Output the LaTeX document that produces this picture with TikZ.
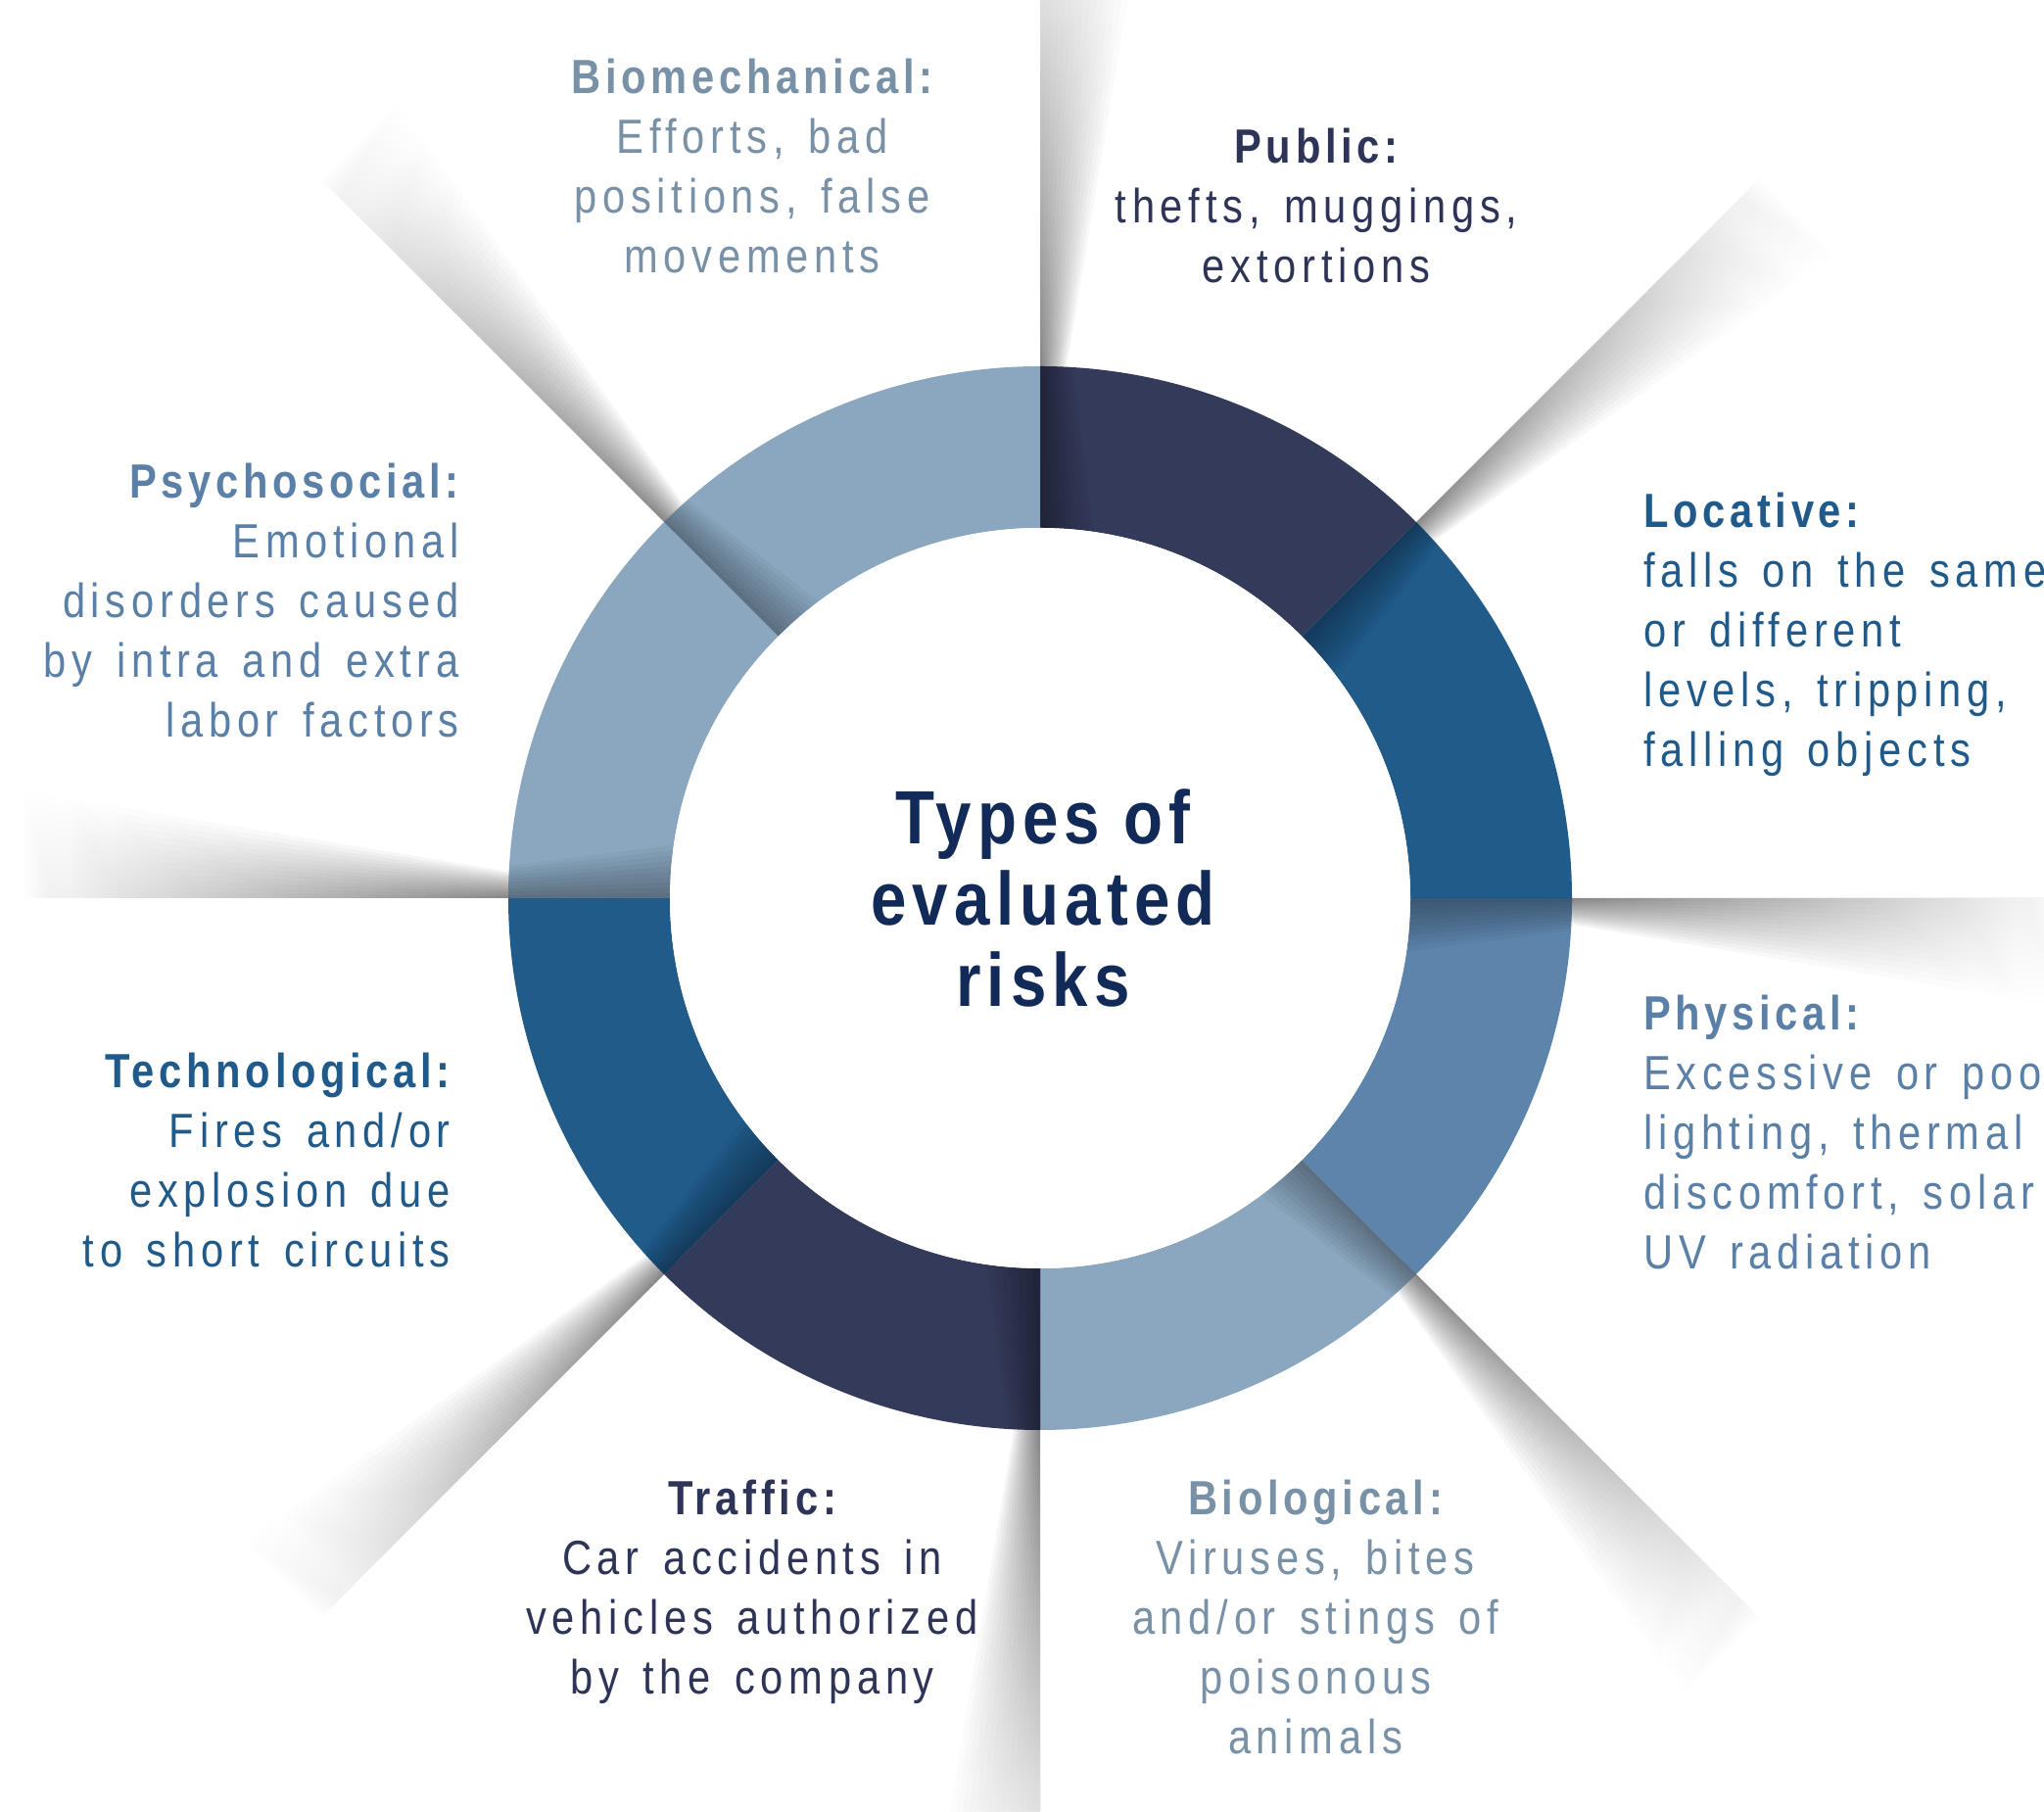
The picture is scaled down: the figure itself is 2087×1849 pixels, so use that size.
\documentclass[tikz,border=0pt]{standalone}
\usepackage{fontspec}
\setmainfont{Liberation Sans}[FakeStretch=0.85,LetterSpace=11.7,WordSpace=1.42,BoldFeatures={LetterSpace=9.6}]
\newfontfamily\titlefont{Liberation Sans}[FakeStretch=0.85,LetterSpace=8]
\definecolor{ringnavy}{RGB}{52,58,90}
\definecolor{ringblue}{RGB}{33,91,138}
\definecolor{ringmid}{RGB}{93,132,170}
\definecolor{ringlight}{RGB}{138,167,191}
\definecolor{titlecol}{RGB}{17,42,88}
\definecolor{txtnavy}{RGB}{46,52,87}
\definecolor{txtblue}{RGB}{31,90,139}
\definecolor{txtmid}{RGB}{90,128,168}
\definecolor{txtlight}{RGB}{120,145,167}
\tikzset{
  bodytxt/.style={font=\fontsize{49}{61}\selectfont, inner sep=0pt},
  headtxt/.style={font=\fontsize{49}{61}\selectfont\bfseries, inner sep=0pt},
  titletxt/.style={font=\titlefont\fontsize{77}{83}\selectfont\bfseries, inner sep=0pt, text=titlecol},
  shadowlayer/.style={left color=black, middle color=black!68, right color=white, fill opacity=0.045},
  ringshade/.style={fill=black, fill opacity=0.035},
}
\newcommand\ringseg[3]{%
  \fill[#1] (#2:543) arc[start angle=#2,end angle=#3,radius=543] -- (#3:378) arc[start angle=#3,end angle=#2,radius=378] -- cycle;}
\newcommand\txtblock[7]{%
  \node[headtxt,text=#5,anchor=#4] (#1-0) at (#2,#3) {#6};
  \foreach \t [count=\i] in {#7}{\node[bodytxt,text=#5,anchor=#4] (#1-\i) at (#2,{#3-61*\i}) {\t};}}
\begin{document}
\begin{tikzpicture}[x=1pt,y=1pt]
\useasboundingbox (0,0) rectangle (2087,1849);
\fill[white] (0,0) rectangle (2087,1849);
\coordinate (C) at (1062,932);
% shadows cast outside the ring
\foreach \a in {90,45,0,-45,-90,-135,180,135}{
  \begin{scope}[transform canvas={shift={(1062,932)},rotate=\a}]
    \foreach \k in {1,...,14}{
      \shade[shadowlayer] (525,0) -- (1040,0) -- (1040,{-\k*110/14}) -- (525,{-\k*24/14}) -- cycle;
    }
  \end{scope}
}
% ring
\begin{scope}[shift={(1062,932)}]
  \ringseg{ringnavy}{90}{45}
  \ringseg{ringblue}{45}{0}
  \ringseg{ringmid}{0}{-45}
  \ringseg{ringlight}{-45}{-90}
  \ringseg{ringnavy}{-90}{-135}
  \ringseg{ringblue}{-135}{-180}
  \ringseg{ringlight}{180}{135}
  \ringseg{ringlight}{135}{90}
\end{scope}
% shadows across the ring
\foreach \a in {90,45,0,-45,-90,-135,180,135}{
  \begin{scope}[transform canvas={shift={(1062,932)},rotate=\a}]
    \clip (0,0) circle[radius=543];
    \foreach \k in {1,...,10}{
      \fill[ringshade] (370,0) -- (550,0) -- (550,{-\k*32/10}) -- (370,{-\k*55/10}) -- cycle;
    }
  \end{scope}
}
\fill[white] (C) circle[radius=378];
% centre title
\node[titletxt,anchor=base] (t1) at (1065,987) {Types of};
\node[titletxt,anchor=base] (t2) at (1065,904) {evaluated};
\node[titletxt,anchor=base] (t3) at (1065,821) {risks};
% labels
\txtblock{bio}{768}{1753}{base}{txtlight}{Biomechanical:}{{Efforts, bad},{positions, false},{movements}}
\txtblock{pub}{1344}{1682}{base}{txtnavy}{Public:}{{thefts, muggings,},{extortions}}
\txtblock{loc}{1678}{1310}{base west}{txtblue}{Locative:}{{falls on the same},{or different},{levels, tripping,},{falling objects}}
\txtblock{phy}{1678}{797}{base west}{txtmid}{Physical:}{{Excessive or poor},{lighting, thermal},{discomfort, solar},{UV radiation}}
\txtblock{biol}{1343}{302}{base}{txtlight}{Biological:}{{Viruses, bites},{and/or stings of},{poisonous},{animals}}
\txtblock{tra}{768}{302}{base}{txtnavy}{Traffic:}{{Car accidents in},{vehicles authorized},{by the company}}
\txtblock{tec}{460}{738}{base east}{txtblue}{Technological:}{{Fires and/or},{explosion due},{to short circuits}}
\txtblock{psy}{469}{1340}{base east}{txtmid}{Psychosocial:}{{Emotional},{disorders caused},{by intra and extra},{labor factors}}
\end{tikzpicture}
\end{document}
